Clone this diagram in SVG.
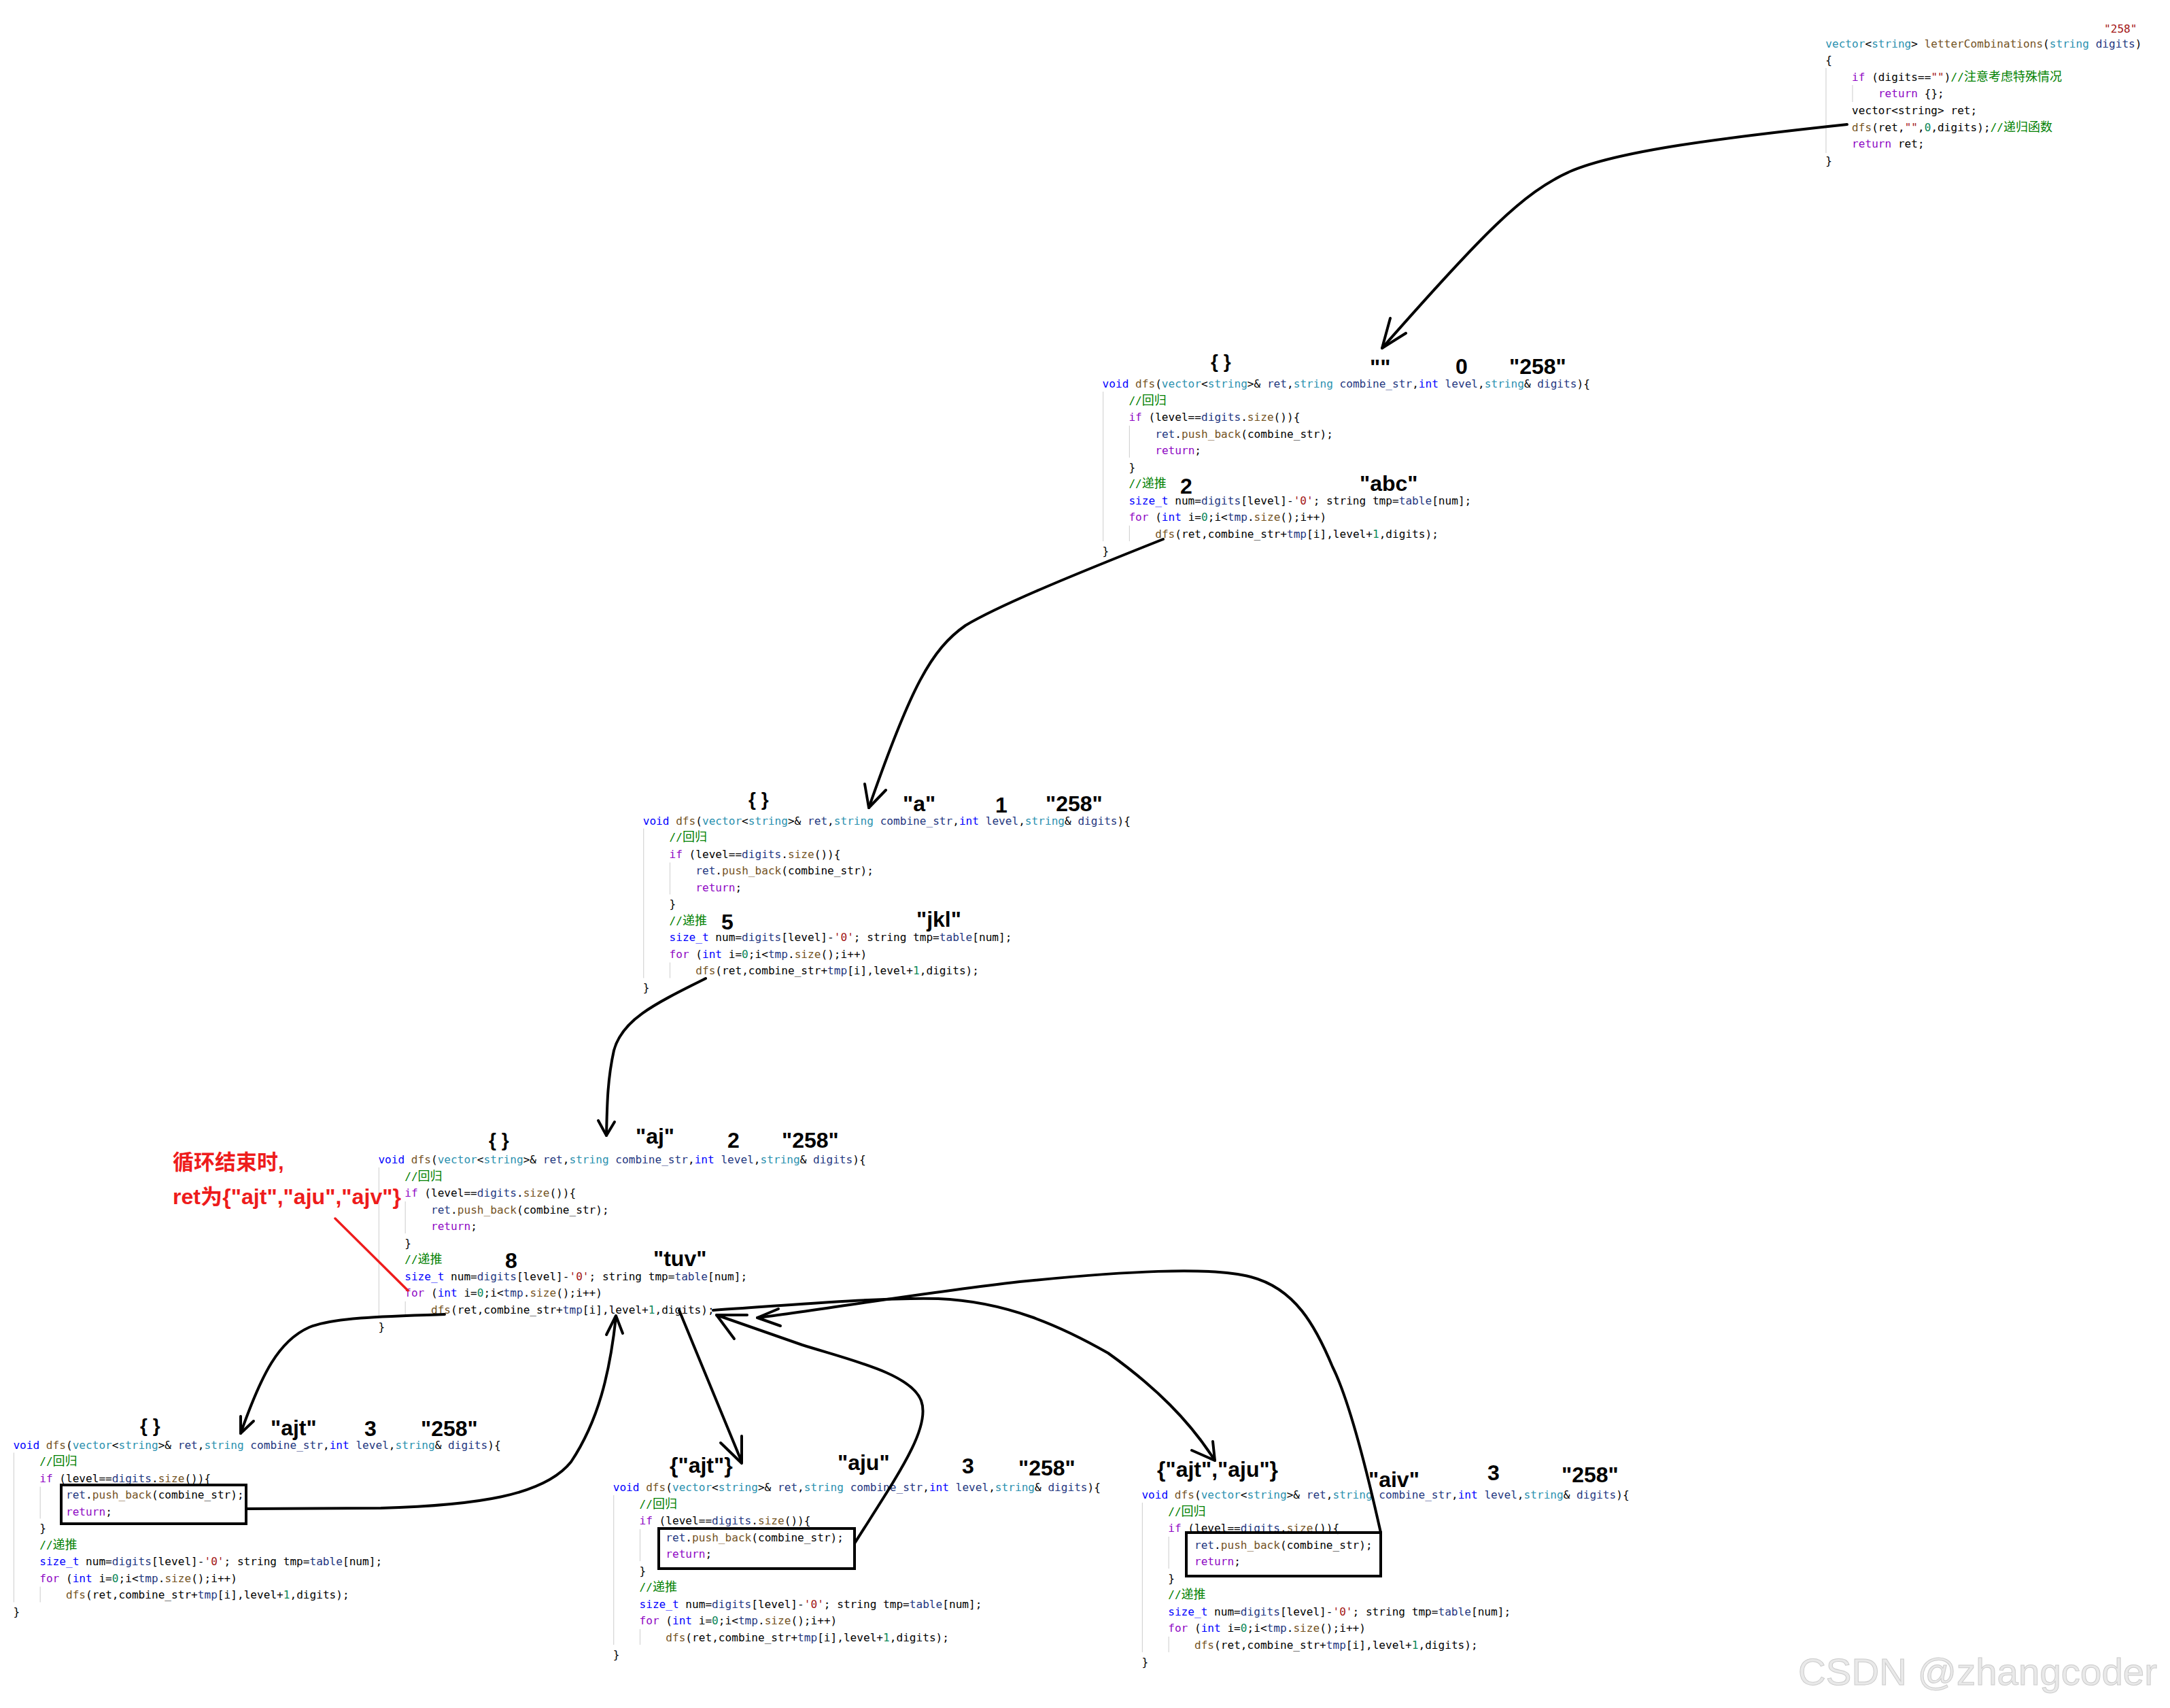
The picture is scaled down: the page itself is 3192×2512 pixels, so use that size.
<svg xmlns="http://www.w3.org/2000/svg" width="3192" height="2512" viewBox="0 0 3192 2512">
<style>
.code{font-family:"DejaVu Sans Mono","Noto Sans CJK SC",monospace;font-size:16.1px;fill:#000;white-space:pre}
.cj{font-family:"Noto Sans CJK SC",sans-serif;font-size:18px}
.k{fill:#0000ff}.c{fill:#8f08c4}.f{fill:#74531f}.t{fill:#2b91af}.p{fill:#1f377f}.s{fill:#a31515}.n{fill:#098658}.g{fill:#008000}
.ann{font-family:"Liberation Sans",Arial,sans-serif;font-weight:bold;font-size:32px;fill:#000}
.br{font-size:28px}
.guide{stroke:#d4d4d4;stroke-width:1.2;fill:none}
.box{fill:none;stroke:#000;stroke-width:4}
.conn{fill:none;stroke:#000;stroke-width:4;stroke-linecap:round;stroke-linejoin:round}
.red{font-family:"Liberation Sans","Noto Sans CJK SC",sans-serif;font-weight:bold;font-size:31px;fill:#ee1c1c}
</style>
<rect width="3192" height="2512" fill="#fff"/>

<g id="node-letterCombinations">
<text class="code s" x="3095" y="48">"258"</text>
<line class="guide" x1="2686" y1="100" x2="2686" y2="225"/>
<line class="guide" x1="2725" y1="125" x2="2725" y2="150"/>
<g transform="translate(2685.3,69.5)">
<text class="code" x="0" y="0"><tspan class="t">vector</tspan>&lt;<tspan class="t">string</tspan>&gt; <tspan class="f">letterCombinations</tspan>(<tspan class="t">string</tspan> <tspan class="p">digits</tspan>)</text>
<text class="code" x="0" y="24.6">{</text>
<text class="code" x="38.8" y="49.2"><tspan class="c">if</tspan> (digits==<tspan class="s">""</tspan>)<tspan class="g">//<tspan class="cj">注意考虑特殊情况</tspan></tspan></text>
<text class="code" x="77.6" y="73.8"><tspan class="c">return</tspan> {};</text>
<text class="code" x="38.8" y="98.4">vector&lt;string&gt; ret;</text>
<text class="code" x="38.8" y="123"><tspan class="f">dfs</tspan>(ret,<tspan class="s">""</tspan>,<tspan class="n">0</tspan>,digits);<tspan class="g">//<tspan class="cj">递归函数</tspan></tspan></text>
<text class="code" x="38.8" y="147.6"><tspan class="c">return</tspan> ret;</text>
<text class="code" x="0" y="172.2">}</text>
</g>
</g>

<g id="node-dfs-level0">
<text class="ann br" x="1781" y="541">{ }</text>
<text class="ann" x="2015" y="551">""</text>
<text class="ann" x="2141" y="550">0</text>
<text class="ann" x="2220" y="550">"258"</text>
<text class="ann" x="1736" y="726">2</text>
<text class="ann" x="2000" y="722">"abc"</text>
<g transform="translate(1621.6,570)">
<line class="guide" x1="1" y1="6" x2="1" y2="226"/>
<line class="guide" x1="39.8" y1="56" x2="39.8" y2="103"/>
<line class="guide" x1="39.8" y1="203" x2="39.8" y2="226"/>
<text class="code" x="0" y="0"><tspan class="k">void</tspan> <tspan class="f">dfs</tspan>(<tspan class="t">vector</tspan>&lt;<tspan class="t">string</tspan>&gt;&amp; <tspan class="p">ret</tspan>,<tspan class="t">string</tspan> <tspan class="p">combine_str</tspan>,<tspan class="k">int</tspan> <tspan class="p">level</tspan>,<tspan class="t">string</tspan>&amp; <tspan class="p">digits</tspan>){</text>
<text class="code g" x="38.8" y="24.55">//<tspan class="cj">回归</tspan></text>
<text class="code" x="38.8" y="49.1"><tspan class="c">if</tspan> (level==<tspan class="p">digits</tspan>.<tspan class="f">size</tspan>()){</text>
<text class="code" x="77.6" y="73.65"><tspan class="p">ret</tspan>.<tspan class="f">push_back</tspan>(combine_str);</text>
<text class="code" x="77.6" y="98.2"><tspan class="c">return</tspan>;</text>
<text class="code" x="38.8" y="122.75">}</text>
<text class="code g" x="38.8" y="147.3">//<tspan class="cj">递推</tspan></text>
<text class="code" x="38.8" y="171.85"><tspan class="k">size_t</tspan> num=<tspan class="p">digits</tspan>[level]-<tspan class="s">'0'</tspan>; string tmp=<tspan class="p">table</tspan>[num];</text>
<text class="code" x="38.8" y="196.4"><tspan class="c">for</tspan> (<tspan class="k">int</tspan> i=<tspan class="n">0</tspan>;i&lt;<tspan class="p">tmp</tspan>.<tspan class="f">size</tspan>();i++)</text>
<text class="code" x="77.6" y="220.95"><tspan class="f">dfs</tspan>(ret,combine_str+<tspan class="p">tmp</tspan>[i],level+<tspan class="n">1</tspan>,digits);</text>
<text class="code" x="0" y="245.5">}</text>
</g>
</g>

<g id="node-dfs-level1">
<text class="ann br" x="1101" y="1185">{ }</text>
<text class="ann" x="1328" y="1193">"a"</text>
<text class="ann" x="1464" y="1195">1</text>
<text class="ann" x="1538" y="1193">"258"</text>
<text class="ann" x="1061" y="1367">5</text>
<text class="ann" x="1348" y="1363">"jkl"</text>
<g transform="translate(945.7,1212.5)">
<line class="guide" x1="1" y1="6" x2="1" y2="226"/>
<line class="guide" x1="39.8" y1="56" x2="39.8" y2="103"/>
<line class="guide" x1="39.8" y1="203" x2="39.8" y2="226"/>
<text class="code" x="0" y="0"><tspan class="k">void</tspan> <tspan class="f">dfs</tspan>(<tspan class="t">vector</tspan>&lt;<tspan class="t">string</tspan>&gt;&amp; <tspan class="p">ret</tspan>,<tspan class="t">string</tspan> <tspan class="p">combine_str</tspan>,<tspan class="k">int</tspan> <tspan class="p">level</tspan>,<tspan class="t">string</tspan>&amp; <tspan class="p">digits</tspan>){</text>
<text class="code g" x="38.8" y="24.55">//<tspan class="cj">回归</tspan></text>
<text class="code" x="38.8" y="49.1"><tspan class="c">if</tspan> (level==<tspan class="p">digits</tspan>.<tspan class="f">size</tspan>()){</text>
<text class="code" x="77.6" y="73.65"><tspan class="p">ret</tspan>.<tspan class="f">push_back</tspan>(combine_str);</text>
<text class="code" x="77.6" y="98.2"><tspan class="c">return</tspan>;</text>
<text class="code" x="38.8" y="122.75">}</text>
<text class="code g" x="38.8" y="147.3">//<tspan class="cj">递推</tspan></text>
<text class="code" x="38.8" y="171.85"><tspan class="k">size_t</tspan> num=<tspan class="p">digits</tspan>[level]-<tspan class="s">'0'</tspan>; string tmp=<tspan class="p">table</tspan>[num];</text>
<text class="code" x="38.8" y="196.4"><tspan class="c">for</tspan> (<tspan class="k">int</tspan> i=<tspan class="n">0</tspan>;i&lt;<tspan class="p">tmp</tspan>.<tspan class="f">size</tspan>();i++)</text>
<text class="code" x="77.6" y="220.95"><tspan class="f">dfs</tspan>(ret,combine_str+<tspan class="p">tmp</tspan>[i],level+<tspan class="n">1</tspan>,digits);</text>
<text class="code" x="0" y="245.5">}</text>
</g>
</g>

<g id="node-dfs-level2">
<text class="ann br" x="719" y="1686">{ }</text>
<text class="ann" x="935" y="1682">"aj"</text>
<text class="ann" x="1070" y="1688">2</text>
<text class="ann" x="1150" y="1688">"258"</text>
<text class="ann" x="743" y="1865">8</text>
<text class="ann" x="961" y="1862">"tuv"</text>
<g transform="translate(556.4,1711)">
<line class="guide" x1="1" y1="6" x2="1" y2="226"/>
<line class="guide" x1="39.8" y1="56" x2="39.8" y2="103"/>
<line class="guide" x1="39.8" y1="203" x2="39.8" y2="226"/>
<text class="code" x="0" y="0"><tspan class="k">void</tspan> <tspan class="f">dfs</tspan>(<tspan class="t">vector</tspan>&lt;<tspan class="t">string</tspan>&gt;&amp; <tspan class="p">ret</tspan>,<tspan class="t">string</tspan> <tspan class="p">combine_str</tspan>,<tspan class="k">int</tspan> <tspan class="p">level</tspan>,<tspan class="t">string</tspan>&amp; <tspan class="p">digits</tspan>){</text>
<text class="code g" x="38.8" y="24.55">//<tspan class="cj">回归</tspan></text>
<text class="code" x="38.8" y="49.1"><tspan class="c">if</tspan> (level==<tspan class="p">digits</tspan>.<tspan class="f">size</tspan>()){</text>
<text class="code" x="77.6" y="73.65"><tspan class="p">ret</tspan>.<tspan class="f">push_back</tspan>(combine_str);</text>
<text class="code" x="77.6" y="98.2"><tspan class="c">return</tspan>;</text>
<text class="code" x="38.8" y="122.75">}</text>
<text class="code g" x="38.8" y="147.3">//<tspan class="cj">递推</tspan></text>
<text class="code" x="38.8" y="171.85"><tspan class="k">size_t</tspan> num=<tspan class="p">digits</tspan>[level]-<tspan class="s">'0'</tspan>; string tmp=<tspan class="p">table</tspan>[num];</text>
<text class="code" x="38.8" y="196.4"><tspan class="c">for</tspan> (<tspan class="k">int</tspan> i=<tspan class="n">0</tspan>;i&lt;<tspan class="p">tmp</tspan>.<tspan class="f">size</tspan>();i++)</text>
<text class="code" x="77.6" y="220.95"><tspan class="f">dfs</tspan>(ret,combine_str+<tspan class="p">tmp</tspan>[i],level+<tspan class="n">1</tspan>,digits);</text>
<text class="code" x="0" y="245.5">}</text>
</g>
</g>

<g id="note-loop-end">
<text class="red" x="254" y="1720">循环结束时,</text>
<text class="red" x="254" y="1771" textLength="336" lengthAdjust="spacingAndGlyphs">ret为{"ajt","aju","ajv"}</text>
<line x1="493" y1="1792" x2="600" y2="1898" stroke="#ee1c1c" stroke-width="3.5" stroke-linecap="round"/>
</g>

<g id="node-dfs-ajt">
<text class="ann br" x="206" y="2106">{ }</text>
<text class="ann" x="398" y="2111">"ajt"</text>
<text class="ann" x="536" y="2112">3</text>
<text class="ann" x="619" y="2112">"258"</text>
<g transform="translate(19.4,2130.5)">
<line class="guide" x1="1" y1="6" x2="1" y2="226"/>
<line class="guide" x1="39.8" y1="56" x2="39.8" y2="103"/>
<line class="guide" x1="39.8" y1="203" x2="39.8" y2="226"/>
<text class="code" x="0" y="0"><tspan class="k">void</tspan> <tspan class="f">dfs</tspan>(<tspan class="t">vector</tspan>&lt;<tspan class="t">string</tspan>&gt;&amp; <tspan class="p">ret</tspan>,<tspan class="t">string</tspan> <tspan class="p">combine_str</tspan>,<tspan class="k">int</tspan> <tspan class="p">level</tspan>,<tspan class="t">string</tspan>&amp; <tspan class="p">digits</tspan>){</text>
<text class="code g" x="38.8" y="24.55">//<tspan class="cj">回归</tspan></text>
<text class="code" x="38.8" y="49.1"><tspan class="c">if</tspan> (level==<tspan class="p">digits</tspan>.<tspan class="f">size</tspan>()){</text>
<text class="code" x="77.6" y="73.65"><tspan class="p">ret</tspan>.<tspan class="f">push_back</tspan>(combine_str);</text>
<text class="code" x="77.6" y="98.2"><tspan class="c">return</tspan>;</text>
<text class="code" x="38.8" y="122.75">}</text>
<text class="code g" x="38.8" y="147.3">//<tspan class="cj">递推</tspan></text>
<text class="code" x="38.8" y="171.85"><tspan class="k">size_t</tspan> num=<tspan class="p">digits</tspan>[level]-<tspan class="s">'0'</tspan>; string tmp=<tspan class="p">table</tspan>[num];</text>
<text class="code" x="38.8" y="196.4"><tspan class="c">for</tspan> (<tspan class="k">int</tspan> i=<tspan class="n">0</tspan>;i&lt;<tspan class="p">tmp</tspan>.<tspan class="f">size</tspan>();i++)</text>
<text class="code" x="77.6" y="220.95"><tspan class="f">dfs</tspan>(ret,combine_str+<tspan class="p">tmp</tspan>[i],level+<tspan class="n">1</tspan>,digits);</text>
<text class="code" x="0" y="245.5">}</text>
</g>
<rect class="box" x="90" y="2184" width="272" height="57"/>
</g>

<g id="node-dfs-aju">
<text class="ann" x="985" y="2166">{"ajt"}</text>
<text class="ann" x="1232" y="2162">"aju"</text>
<text class="ann" x="1415" y="2167">3</text>
<text class="ann" x="1498" y="2170">"258"</text>
<g transform="translate(901.7,2193)">
<line class="guide" x1="1" y1="6" x2="1" y2="226"/>
<line class="guide" x1="39.8" y1="56" x2="39.8" y2="103"/>
<line class="guide" x1="39.8" y1="203" x2="39.8" y2="226"/>
<text class="code" x="0" y="0"><tspan class="k">void</tspan> <tspan class="f">dfs</tspan>(<tspan class="t">vector</tspan>&lt;<tspan class="t">string</tspan>&gt;&amp; <tspan class="p">ret</tspan>,<tspan class="t">string</tspan> <tspan class="p">combine_str</tspan>,<tspan class="k">int</tspan> <tspan class="p">level</tspan>,<tspan class="t">string</tspan>&amp; <tspan class="p">digits</tspan>){</text>
<text class="code g" x="38.8" y="24.55">//<tspan class="cj">回归</tspan></text>
<text class="code" x="38.8" y="49.1"><tspan class="c">if</tspan> (level==<tspan class="p">digits</tspan>.<tspan class="f">size</tspan>()){</text>
<text class="code" x="77.6" y="73.65"><tspan class="p">ret</tspan>.<tspan class="f">push_back</tspan>(combine_str);</text>
<text class="code" x="77.6" y="98.2"><tspan class="c">return</tspan>;</text>
<text class="code" x="38.8" y="122.75">}</text>
<text class="code g" x="38.8" y="147.3">//<tspan class="cj">递推</tspan></text>
<text class="code" x="38.8" y="171.85"><tspan class="k">size_t</tspan> num=<tspan class="p">digits</tspan>[level]-<tspan class="s">'0'</tspan>; string tmp=<tspan class="p">table</tspan>[num];</text>
<text class="code" x="38.8" y="196.4"><tspan class="c">for</tspan> (<tspan class="k">int</tspan> i=<tspan class="n">0</tspan>;i&lt;<tspan class="p">tmp</tspan>.<tspan class="f">size</tspan>();i++)</text>
<text class="code" x="77.6" y="220.95"><tspan class="f">dfs</tspan>(ret,combine_str+<tspan class="p">tmp</tspan>[i],level+<tspan class="n">1</tspan>,digits);</text>
<text class="code" x="0" y="245.5">}</text>
</g>
<rect class="box" x="969" y="2248" width="288" height="59"/>
</g>

<g id="node-dfs-aiv">
<text class="ann" x="1702" y="2172">{"ajt","aju"}</text>
<text class="ann" x="2013" y="2187">"aiv"</text>
<text class="ann" x="2188" y="2177">3</text>
<text class="ann" x="2297" y="2180">"258"</text>
<g transform="translate(1679.4,2204)">
<line class="guide" x1="1" y1="6" x2="1" y2="226"/>
<line class="guide" x1="39.8" y1="56" x2="39.8" y2="103"/>
<line class="guide" x1="39.8" y1="203" x2="39.8" y2="226"/>
<text class="code" x="0" y="0"><tspan class="k">void</tspan> <tspan class="f">dfs</tspan>(<tspan class="t">vector</tspan>&lt;<tspan class="t">string</tspan>&gt;&amp; <tspan class="p">ret</tspan>,<tspan class="t">string</tspan> <tspan class="p">combine_str</tspan>,<tspan class="k">int</tspan> <tspan class="p">level</tspan>,<tspan class="t">string</tspan>&amp; <tspan class="p">digits</tspan>){</text>
<text class="code g" x="38.8" y="24.55">//<tspan class="cj">回归</tspan></text>
<text class="code" x="38.8" y="49.1"><tspan class="c">if</tspan> (level==<tspan class="p">digits</tspan>.<tspan class="f">size</tspan>()){</text>
<text class="code" x="77.6" y="73.65"><tspan class="p">ret</tspan>.<tspan class="f">push_back</tspan>(combine_str);</text>
<text class="code" x="77.6" y="98.2"><tspan class="c">return</tspan>;</text>
<text class="code" x="38.8" y="122.75">}</text>
<text class="code g" x="38.8" y="147.3">//<tspan class="cj">递推</tspan></text>
<text class="code" x="38.8" y="171.85"><tspan class="k">size_t</tspan> num=<tspan class="p">digits</tspan>[level]-<tspan class="s">'0'</tspan>; string tmp=<tspan class="p">table</tspan>[num];</text>
<text class="code" x="38.8" y="196.4"><tspan class="c">for</tspan> (<tspan class="k">int</tspan> i=<tspan class="n">0</tspan>;i&lt;<tspan class="p">tmp</tspan>.<tspan class="f">size</tspan>();i++)</text>
<text class="code" x="77.6" y="220.95"><tspan class="f">dfs</tspan>(ret,combine_str+<tspan class="p">tmp</tspan>[i],level+<tspan class="n">1</tspan>,digits);</text>
<text class="code" x="0" y="245.5">}</text>
</g>
<rect class="box" x="1745" y="2254" width="286" height="64"/>
</g>

<g id="connectors">
<path class="conn" d="M2717,183 C2530,203 2380,222 2310,252 C2240,283 2180,345 2033,512"/>
<path class="conn" d="M2045,468 L2033,512 L2068,490"/>
<path class="conn" d="M1711,793 C1580,845 1470,890 1420,920 C1370,955 1340,1010 1278,1188"/>
<path class="conn" d="M1272,1153 L1278,1188 L1303,1162"/>
<path class="conn" d="M1038,1439 C960,1478 915,1500 903,1545 C893,1590 893,1630 892,1670"/>
<path class="conn" d="M880,1648 L892,1670 L904,1650"/>
<path class="conn" d="M654,1933 C560,1936 490,1938 455,1952 C410,1972 385,2020 354,2108" stroke-width="5"/>
<path class="conn" d="M354,2083 L354,2108 L373,2090"/>
<path class="conn" d="M363,2219 L560,2218 C700,2214 800,2200 840,2150 C880,2090 897,2020 906,1937" stroke-width="5"/>
<path class="conn" d="M892,1963 L906,1935 L916,1961"/>
<path class="conn" d="M999,1927 L1091,2150"/>
<path class="conn" d="M1060,2122 L1091,2152 L1091,2112"/>
<path class="conn" d="M1257,2270 C1320,2170 1370,2100 1355,2060 C1340,2020 1250,2000 1180,1978 L1054,1934"/>
<path class="conn" d="M1080,1969 L1054,1934 L1099,1934"/>
<path class="conn" d="M2031,2254 C2010,2160 1985,2060 1960,2010 C1935,1950 1905,1895 1840,1878 C1780,1862 1650,1870 1500,1885 C1350,1902 1200,1928 1114,1938"/>
<path class="conn" d="M1145,1925 L1114,1938 L1148,1950"/>
<path class="conn" d="M1049,1927 C1180,1918 1300,1908 1380,1910 C1480,1914 1560,1950 1630,1990 C1700,2040 1750,2090 1787,2148"/>
<path class="conn" d="M1753,2133 L1787,2148 L1784,2120"/>
</g>

<text x="2645" y="2478" font-family="Liberation Sans, Arial, sans-serif" font-size="56" fill="#e9e9e9" stroke="#cccccc" stroke-width="1" textLength="528" lengthAdjust="spacingAndGlyphs">CSDN @zhangcoder</text>
</svg>
